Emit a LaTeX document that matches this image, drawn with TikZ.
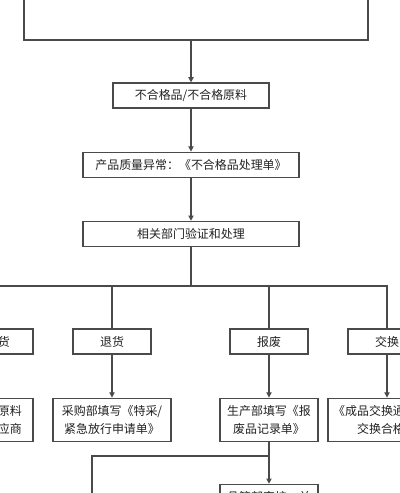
\documentclass[tikz,border=0pt]{standalone}
\usepackage{fontspec}
\setmainfont{Noto Sans CJK SC}
\usepackage{xcolor}
\usetikzlibrary{arrows.meta,positioning}
\definecolor{linegray}{HTML}{4A4A4A}
\definecolor{textgray}{HTML}{222222}

\begin{document}
\begin{tikzpicture}[x=0.025cm,y=-0.025cm,
  box/.style={draw=linegray, line width=0.8pt, fill=white, align=center, inner sep=0pt,
              minimum height=0.625cm, font=\fontsize{8.5pt}{12.8pt}\selectfont, text=textgray},
  wide/.style={box, minimum width=5.4cm},
  short/.style={box, minimum width=1.95cm},
  double/.style={box, minimum height=1.075cm},
  link/.style={draw=linegray, line width=0.8pt},
  arrow/.style={link, -{Triangle[length=1.3mm,width=1.3mm]}}
]
  \useasboundingbox (0,0) rectangle (400,493);
  \clip (0,0) rectangle (400,493);
  % top part of the chart
  \node[box, minimum width=8.6cm, minimum height=2.5cm] (top) at (196,-10) {};
  \node[box, minimum width=3.9cm] (nc) at (191,95.5) {不合格品/不合格原料};
  \node[wide, below=1.075cm of nc] (form) {产品质量异常：《不合格品处理单》};
  \node[wide, below=1.075cm of form] (check) {相关部门验证和处理};
  \coordinate (bar) at (191,286);
  % four ways of handling
  \node[box, minimum width=2.95cm] (back) at (-26,341.5) {供应商退换货};
  \node[short] (ret) at (112,341.5) {退货};
  \node[short] (scrap) at (269,341.5) {报废};
  \node[short] (swap) at (387,341.5) {交换};
  \node[double, minimum width=2.95cm, below=1.075cm of back] (backf) {退还不合格品原料\\并退回给原供应商};
  \node[double, minimum width=2.95cm, below=1.075cm of ret] (retf) {采购部填写《特采/\\紧急放行申请单》};
  \node[double, minimum width=2.45cm, below=1.075cm of scrap] (scrapf) {生产部填写《报\\废品记录单》};
  \node[double, minimum width=2.95cm, below=1.075cm of swap] (swapf) {《成品交换通知单》\\交换合格品};
  \node[double, minimum width=2.45cm, below=1.05cm of scrapf] (qc) {品管部审核，并\\签字确认};
  \coordinate (turn) at (92,456);
  \coordinate (down) at (92,520);

  \draw[arrow] (top.south -| nc) -- (nc);
  \foreach \x/\y in {nc/form,form/check,back/backf,ret/retf,scrap/scrapf,swap/swapf,scrapf/qc}{\draw[arrow] (\x) -- (\y);}
  \draw[link] (check) -- (bar);
  \foreach \x in {back,ret,scrap,swap}{\draw[link] (bar) -| (\x.north);}
  \draw[link] (scrapf.south |- turn) -- (turn) -- (down);
\end{tikzpicture}
\end{document}
